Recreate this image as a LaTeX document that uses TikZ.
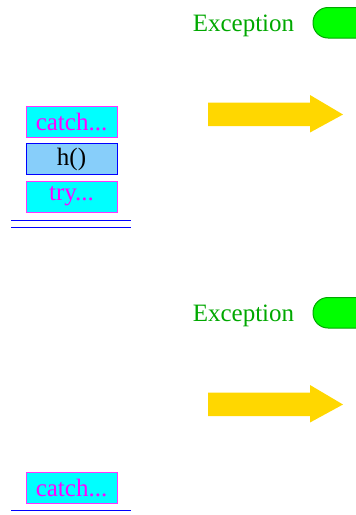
\documentclass[tikz,border=0pt]{standalone}
\usepackage{fontspec}
\setmainfont{Liberation Serif}
\definecolor{framemag}{HTML}{FF33FF}
\definecolor{framecyan}{HTML}{00FFFF}
\definecolor{textmag}{HTML}{FF00FF}
\definecolor{hfill}{HTML}{87CEFA}
\definecolor{stackblue}{HTML}{0000FF}
\definecolor{exgreen}{HTML}{00A800}
\definecolor{ballgreen}{HTML}{00FF00}
\definecolor{gold}{HTML}{FFD700}
\tikzset{
  frame/.style={
    draw = framemag,
    fill = framecyan,
    text = textmag,
    line width = 1pt,
    minimum width = 91pt,
    minimum height = 31pt,
    inner sep = 0pt,
    font = \fontsize{25}{28}\selectfont
  },
  callframe/.style={
    frame,
    draw = stackblue,
    fill = hfill,
    text = black
  },
  stackline/.style={
    draw = stackblue,
    line width = 1pt
  },
  extext/.style={
    text = exgreen,
    inner sep = 0pt,
    font = \fontsize{25}{28}\selectfont
  },
  exball/.style={
    draw = exgreen,
    fill = ballgreen,
    line width = 1pt,
    rounded corners = 15pt
  },
  bigarrow/.style={
    fill = gold
  }
}

\begin{document}
\begin{tikzpicture}[x=1pt,y=-1pt]
    \useasboundingbox (0,0) rectangle (356,515);
    % top stack
    \node[frame] (catchA) at (71.5,121.5) {catch...};
    \node[callframe] (h) at (71.5,159) {h()};
    \node[frame] (tryA) at (71.5,196.5) {try...};
    \coordinate (baseAl) at (11,220);
    \coordinate (baseAr) at (131,220);
    \draw[stackline] (baseAl) -- (baseAr);
    \draw[stackline] ([yshift=-7pt]baseAl) -- ([yshift=-7pt]baseAr);
    % exceptions and arrows
    \foreach \y/\n in {0/A,290/B}{
        \node[extext] (ex\n) at (243.5,25.5+\y) {Exception};
        \draw[exball] (313,7.5+\y) rectangle (372,38+\y);
        \fill[bigarrow] (208,102.5+\y) -- (310,102.5+\y) -- (310,95+\y)
            -- (343,114.5+\y) -- (310,132.5+\y) -- (310,126+\y)
            -- (208,126+\y) -- cycle;
    }
    % bottom stack
    \node[frame] (catchB) at (71.5,487.5) {catch...};
    \coordinate (baseBl) at (11,510);
    \coordinate (baseBr) at (131,510);
    \draw[stackline] (baseBl) -- (baseBr);
\end{tikzpicture}
\end{document}
